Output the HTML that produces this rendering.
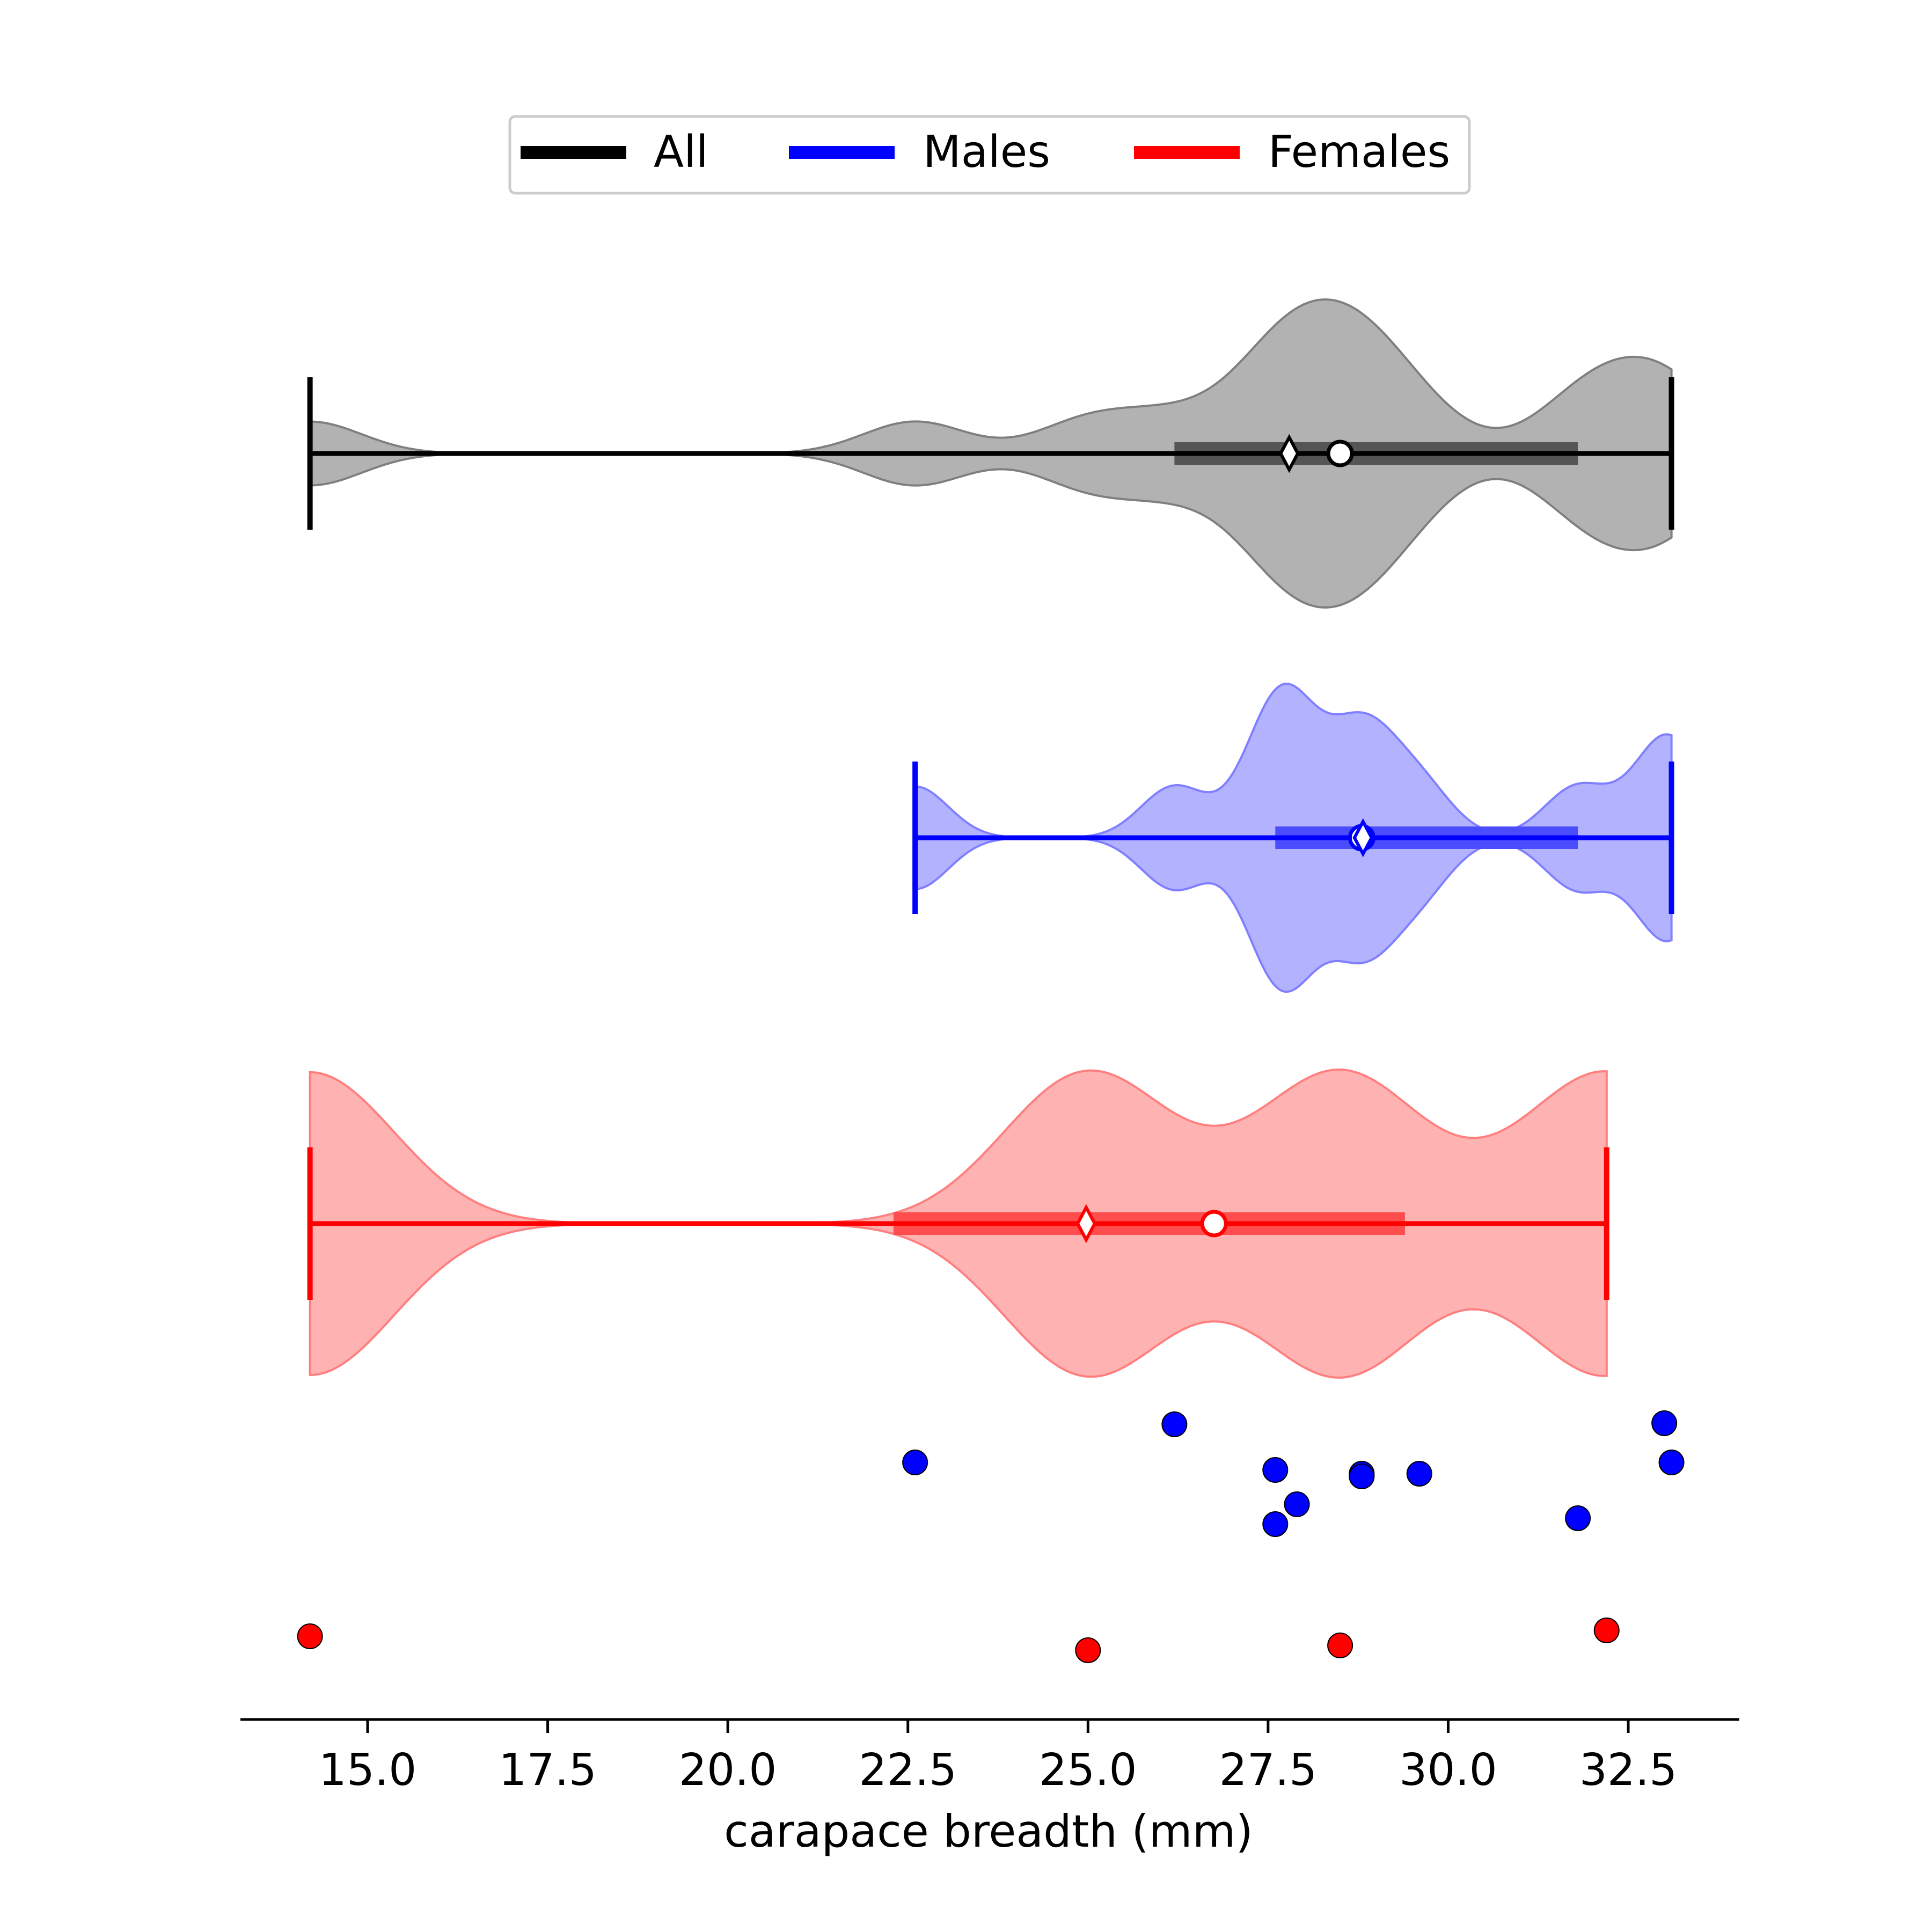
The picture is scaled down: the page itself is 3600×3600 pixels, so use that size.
<!DOCTYPE html>
<html><head><meta charset="utf-8"><style>
html,body{margin:0;padding:0;background:#fff}
svg{display:block}
text{font-family:"DejaVu Sans","Liberation Sans",sans-serif;fill:#000}
</style></head><body>
<svg id="chart" width="3600" height="3600" viewBox="0 0 3600 3600" xmlns="http://www.w3.org/2000/svg">
<g id="violins"></g>
<g id="points"></g>
<g id="axis"></g>
<text x="1842" y="3441" font-size="83" text-anchor="middle">carapace breadth (mm)</text>
<g>
<rect x="950" y="217" width="1788" height="143" rx="10" fill="#fff" stroke="#cccccc" stroke-width="5"/>
<g><line x1="970" y1="284" x2="1167" y2="284" stroke="#000" stroke-width="24"/><text x="1218" y="311" font-size="82">All</text></g>
<g><line x1="1470" y1="284" x2="1667" y2="284" stroke="#0000ff" stroke-width="24"/><text x="1720" y="311" font-size="82">Males</text></g>
<g><line x1="2113" y1="284" x2="2310" y2="284" stroke="#ff0000" stroke-width="24"/><text x="2363" y="311" font-size="82">Females</text></g>
</g>
</svg>
<script>
const males = [22.6, 26.2, 27.6, 27.6, 27.9, 28.8, 28.8, 29.6, 31.8, 33.0, 33.1];
const malesJitterY = [2725, 2654, 2739, 2840, 2803, 2746, 2751, 2746, 2829, 2652, 2725];
const females = [14.2, 25.0, 28.5, 32.2];
const femalesJitterY = [3049, 3075, 3066, 3038];
const iqrLow = [26.2, 27.6, 22.3];
const iqrHigh = [31.8, 31.8, 29.4];
const xTicks = [15.0, 17.5, 20.0, 22.5, 25.0, 27.5, 30.0, 32.5];
const xTickLabels = ["15.0", "17.5", "20.0", "22.5", "25.0", "27.5", "30.0", "32.5"];

const NS = "http://www.w3.org/2000/svg";
function X(v){ return 685 + (v - 15) * 134.23; }
function mk(tag, attrs, parent){
  const e = document.createElementNS(NS, tag);
  for (const k in attrs) e.setAttribute(k, attrs[k]);
  parent.appendChild(e); return e;
}
function pct(a, p){ const s=[...a].sort((x,y)=>x-y); const i=(s.length-1)*p; const lo=Math.floor(i), hi=Math.ceil(i); return s[lo]+(s[hi]-s[lo])*(i-lo); }
function mean(a){ return a.reduce((s,v)=>s+v,0)/a.length; }
function std(a){ const m=mean(a); return Math.sqrt(a.reduce((s,v)=>s+(v-m)*(v-m),0)/(a.length-1)); }

const all = males.concat(females);
const groups = [
  {name:"all", data:all, cy:845, fill:"#b2b2b2", edge:"#7f7f7f", col:"#000000", iqr:"#555555"},
  {name:"males", data:males, cy:1561, fill:"#b2b2ff", edge:"#7f7fff", col:"#0000ff", iqr:"#4c4cff"},
  {name:"females", data:females, cy:2280, fill:"#ffb2b2", edge:"#ff7f7f", col:"#ff0000", iqr:"#ff4c4c"}
];
const vg = document.getElementById('violins');
groups.forEach((g, gi) => {
  const d = g.data, bw = 0.15 * std(d);
  const lo = Math.min(...d), hi = Math.max(...d), N = 300;
  const xs = [], ys = [];
  for (let i=0;i<=N;i++){ const v = lo + (hi-lo)*i/N; xs.push(v);
    ys.push(d.reduce((s,p)=>s+Math.exp(-0.5*((v-p)/bw)**2),0)); }
  const mx = Math.max(...ys), hw = 287;
  let path = "M";
  xs.forEach((v,i)=>{ path += X(v).toFixed(1)+","+(g.cy - ys[i]/mx*hw).toFixed(1)+" L"; });
  for (let i=N;i>=0;i--) path += X(xs[i]).toFixed(1)+","+(g.cy + ys[i]/mx*hw).toFixed(1)+(i>0?" L":" Z");
  const gg = mk('g', {}, vg);
  
  
  mk('path', {d:path, fill:g.fill, stroke:g.edge, 'stroke-width':4}, gg);
  const q1 = iqrLow[gi], q3 = iqrHigh[gi], med = pct(d,0.5), mn = mean(d);
  mk('line', {x1:X(q1), x2:X(q3), y1:g.cy, y2:g.cy, stroke:g.iqr, 'stroke-width':42}, gg);
  mk('line', {x1:X(lo), x2:X(hi), y1:g.cy, y2:g.cy, stroke:g.col, 'stroke-width':9}, gg);
  mk('line', {x1:X(lo), x2:X(lo), y1:g.cy-142, y2:g.cy+142, stroke:g.col, 'stroke-width':10}, gg);
  mk('line', {x1:X(hi), x2:X(hi), y1:g.cy-142, y2:g.cy+142, stroke:g.col, 'stroke-width':10}, gg);
  const c = mk('circle', {cx:X(med), cy:g.cy, r:22, fill:"#fff", stroke:g.col, 'stroke-width':7}, gg);
  
  
  const mxp = X(mn);
  const dm = mk('path', {d:`M${mxp},${g.cy-30} L${mxp+16},${g.cy} L${mxp},${g.cy+30} L${mxp-16},${g.cy} Z`, fill:"#fff", stroke:g.col, 'stroke-width':6}, gg);
  
  
});
const pg = document.getElementById('points');
males.forEach((v,i)=>{
  const c = mk('circle', {cx:X(v), cy:malesJitterY[i], r:23, fill:"#0000ff", stroke:"#000", 'stroke-width':2}, pg);
  
  
});
females.forEach((v,i)=>{
  const c = mk('circle', {cx:X(v), cy:femalesJitterY[i], r:23, fill:"#ff0000", stroke:"#000", 'stroke-width':2}, pg);
  
  
});
const ax = document.getElementById('axis');
const al = mk('line', {x1:448, x2:3241, y1:3204, y2:3204, stroke:"#000", 'stroke-width':5}, ax);


xTicks.forEach((v,i)=>{
  mk('line', {x1:X(v), x2:X(v), y1:3204, y2:3229, stroke:"#000", 'stroke-width':5}, ax);
  const t = mk('text', {x:X(v), y:3326, 'font-size':82, 'text-anchor':'middle'}, ax);
  t.textContent = xTickLabels[i];
  
  
});
</script>
</body></html>
